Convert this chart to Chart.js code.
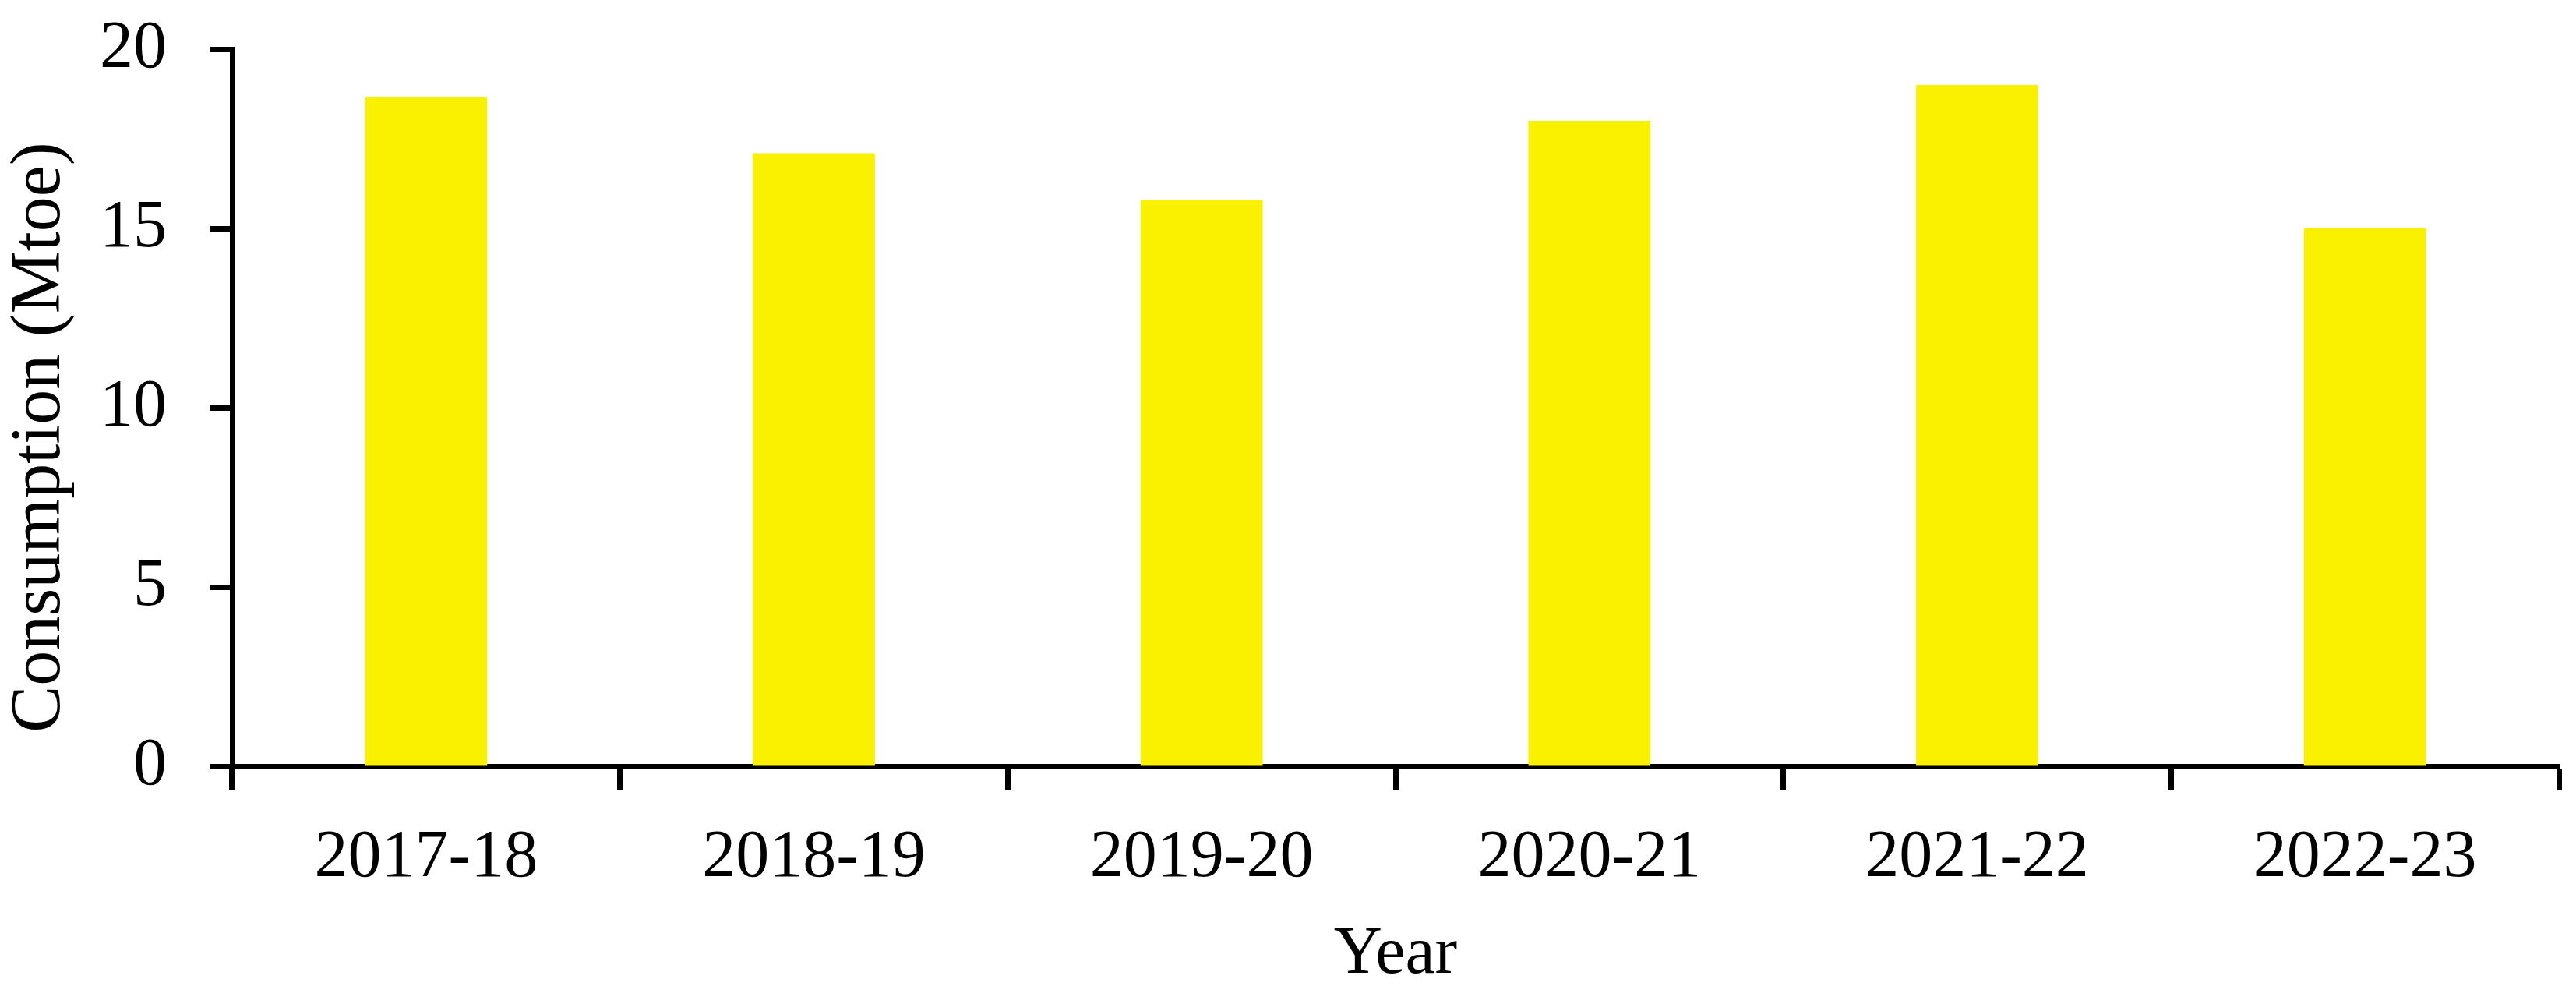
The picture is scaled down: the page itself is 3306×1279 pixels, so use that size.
<!DOCTYPE html>
<html>
<head>
<meta charset="utf-8">
<script src="https://cdn.jsdelivr.net/npm/chart.js@4.4.1/dist/chart.umd.min.js"></script>
<style>
  html, body { margin: 0; padding: 0; background: #ffffff; }
  #wrap { width: 3306px; height: 1279px; }
</style>
</head>
<body>
<div id="wrap"><canvas id="c" width="3306" height="1279"></canvas></div>
<script>
const categories = ['2017-18', '2018-19', '2019-20', '2020-21', '2021-22', '2022-23'];
const consumption = [18.65, 17.1, 15.8, 18.0, 19.0, 15.0];
const yTicks = [0, 5, 10, 15, 20];
const xTitle = 'Year';
const yTitle = 'Consumption (Mtoe)';

const FONT = "'Palatino Linotype', 'Book Antiqua', Palatino, 'Liberation Serif', 'Times New Roman', serif";

const yTitlePlugin = {
  id: 'yTitlePlugin',
  afterDraw(chart) {
    const ctx = chart.ctx;
    const area = chart.chartArea;
    ctx.save();
    ctx.translate(52, (area.top + area.bottom) / 2 + 38);
    ctx.rotate(-Math.PI / 2);
    ctx.font = '90px ' + FONT;
    ctx.fillStyle = '#000';
    ctx.textAlign = 'center';
    ctx.textBaseline = 'middle';
    ctx.fillText(yTitle, 0, 0);
    ctx.restore();
  }
};

new Chart(document.getElementById('c'), {
  type: 'bar',
  data: {
    labels: categories,
    datasets: [{
      data: consumption,
      backgroundColor: '#F9F100',
      borderWidth: 0,
      categoryPercentage: 1.0,
      barPercentage: 0.315
    }]
  },
  plugins: [yTitlePlugin],
  options: {
    responsive: false,
    animation: false,
    devicePixelRatio: 1,
    layout: { padding: { top: 63, right: 22, left: 0, bottom: 0 } },
    plugins: { legend: { display: false }, tooltip: { enabled: false } },
    scales: {
      x: {
        grid: { display: true, drawOnChartArea: false, drawTicks: true, tickLength: 30, tickWidth: 7, tickColor: '#000', offset: true },
        border: { display: true, color: '#000', width: 7 },
        ticks: { color: '#000', font: { family: FONT, size: 86, lineHeight: 1.2 }, padding: 37, maxRotation: 0, autoSkip: false },
        title: { display: true, text: xTitle, color: '#000', font: { family: FONT, size: 86, lineHeight: 1.2 }, padding: { top: 0, bottom: 2 } },
        afterFit: (s) => { s.height = 1279 - 983; s.paddingLeft = 0; s.paddingRight = 0; }
      },
      y: {
        min: 0, max: 20,
        afterBuildTicks: (s) => { s.ticks = yTicks.map(v => ({ value: v })); },
        grid: { display: true, drawOnChartArea: false, drawTicks: true, tickLength: 28, tickWidth: 7, tickColor: '#000' },
        border: { display: true, color: '#000', width: 7 },
        ticks: { color: '#000', font: { family: FONT, size: 86, lineHeight: 1.2 }, padding: 56 },
        title: { display: false },
        afterFit: (s) => { s.width = 298; s.paddingTop = 0; s.paddingBottom = 0; }
      }
    }
  }
});
</script>
</body>
</html>
